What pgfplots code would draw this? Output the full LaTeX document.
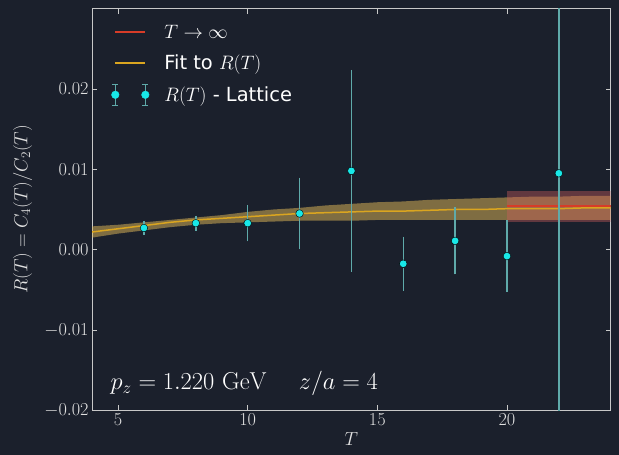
\RequirePackage{fix-cm}
\documentclass[border=0pt]{standalone}
\usepackage[no-math]{fontspec}
\setmainfont{DejaVu Sans}
\usepackage{pgfplots}
\usepackage{pgfplotstable}
\pgfplotsset{compat=1.18}
\usepgfplotslibrary{fillbetween}
\definecolor{bg}{RGB}{27,32,44}
\definecolor{axcol}{RGB}{200,200,200}
\definecolor{labcol}{RGB}{225,225,225}
\definecolor{errcol}{RGB}{95,170,170}
\definecolor{mkcol}{RGB}{24,232,232}
\definecolor{fitcol}{RGB}{218,165,32}
\definecolor{infcol}{RGB}{215,60,40}
\definecolor{infbandcol}{RGB}{205,92,92}
\pagecolor{bg}
\newcommand{\legA}{\ensuremath{T \to \infty}}
\newcommand{\legB}{Fit to \ensuremath{R(T)}}
\newcommand{\legC}{\ensuremath{R(T)} - Lattice}
\pgfplotsset{
  linelegend/.style={legend image code/.code={\path[draw=none, fill=none] (-5bp,-10bp) rectangle (47bp,10bp); \draw[##1, line width=1.6bp] (0bp,0bp) -- (30bp,0bp);}},
  latlegend/.style={legend image code/.code={%
    \path[draw=none, fill=none] (-5bp,-10bp) rectangle (47bp,10bp);
    \draw[errcol, line width=1.5bp] (0bp,-10.5bp) -- (0bp,10.5bp) (-3bp,-10.5bp) -- (3bp,-10.5bp) (-3bp,10.5bp) -- (3bp,10.5bp);
    \draw[errcol, line width=1.5bp] (30bp,-10.5bp) -- (30bp,10.5bp) (27bp,-10.5bp) -- (33bp,-10.5bp) (27bp,10.5bp) -- (33bp,10.5bp);
    \fill[mkcol] (0bp,0bp) circle (3.8bp);
    \fill[mkcol] (30bp,0bp) circle (3.8bp);}},
}
\pgfplotstableread{
T R E
6 0.0027 0.0005
8 0.0033 0.00055
10 0.0033 0.0019
12 0.0045 0.0041
14 0.0098 0.0122
16 -0.00175 0.0030
18 0.0011 0.0038
20 -0.0008 0.0041
22 0.0095 0.08
}\latticedata
\pgfplotstableread{
T lo mid hi
4 0.0015 0.0022 0.0029
5 0.0020 0.0026 0.0031
6 0.0024 0.0030 0.0034
7 0.0028 0.0034 0.0037
8 0.0031 0.0037 0.0040
9 0.0033 0.0039 0.0043
10 0.0034 0.0041 0.0047
11 0.0035 0.0043 0.0050
12 0.0036 0.0045 0.0052
13 0.0036 0.0046 0.0055
14 0.0036 0.0047 0.0057
15 0.0037 0.0048 0.0059
16 0.0037 0.0048 0.0060
17 0.0037 0.0049 0.0062
18 0.0037 0.0050 0.0063
19 0.0037 0.0050 0.0064
20 0.0037 0.0051 0.0065
21 0.0037 0.0051 0.0066
22 0.0037 0.0051 0.0066
23 0.0037 0.0052 0.0067
24 0.0037 0.0052 0.0067
}\fitdata
\pgfplotstableread{
T lo mid hi
20 0.0035 0.0054 0.0073
24 0.0035 0.0054 0.0073
}\infdata
\begin{document}
\begin{tikzpicture}
\begin{axis}[
  name=ax, at={(0,0)}, anchor=south west,
  width=518bp, height=401.5bp, scale only axis,
  xmin=4, xmax=24, ymin=-0.02, ymax=0.03,
  xtick={5,10,15,20},
  ytick={-0.02,-0.01,0,0.01,0.02},
  yticklabels={$-0.02$,$-0.01$,$0.00$,$0.01$,$0.02$},
  axis line style={draw=axcol, line width=1bp},
  tick style={draw=axcol, line width=0.8bp},
  tick align=inside, major tick length=5bp,
  tick label style={font=\fontsize{18.3}{20}\selectfont, text=labcol},
  xlabel={$T$}, ylabel={$R(T) = C_4(T)/C_2(T)$},
  label style={font=\fontsize{19}{21}\selectfont, text=labcol},
  xlabel style={at={(axis description cs:0.5,0)}, anchor=north, yshift=-19bp},
  ylabel style={at={(axis description cs:-0.109,0.5)}, anchor=south},
  legend style={at={(axis description cs:0.0347,0.9664)}, anchor=north west,
    draw=none, fill=none, text=white, font=\fontsize{19.5}{21}\selectfont,
    row sep=10.5bp, inner sep=0pt, nodes={inner sep=2bp}},
  legend cell align=left,
]
\addplot[infcol, line width=1.6bp, linelegend] table[x=T, y=mid] {\infdata};
\addlegendentry{\legA}
\addplot[name path=fu, draw=none, forget plot] table[x=T, y=hi] {\fitdata};
\addplot[name path=fl, draw=none, forget plot] table[x=T, y=lo] {\fitdata};
\addplot[fill=fitcol!75!white, fill opacity=0.5, draw=none, forget plot] fill between[of=fu and fl];
\addplot[fitcol, line width=1.5bp, linelegend] table[x=T, y=mid] {\fitdata};
\addlegendentry{\legB}
\addplot[name path=iu, draw=none, forget plot] table[x=T, y=hi] {\infdata};
\addplot[name path=il, draw=none, forget plot] table[x=T, y=lo] {\infdata};
\addplot[fill=infbandcol, fill opacity=0.4, draw=none, forget plot] fill between[of=iu and il];
\addplot[infcol, line width=1.6bp, forget plot] table[x=T, y=mid] {\infdata};
\addplot[only marks, mark=*, mark size=3.8bp, mark options={draw=none, fill=mkcol}, latlegend,
  error bars/.cd, y dir=both, y explicit,
  error bar style={errcol, line width=1.5bp},
  error mark options={errcol, line width=1.5bp, mark size=3bp}]
  table[x=T, y=R, y error=E] {\latticedata};
\addlegendentry{\legC}
\node[anchor=base west, font=\fontsize{24.5}{27}\selectfont, text=white] at (axis description cs:0.029,0.052) {$p_z = 1.220\ \mathrm{GeV} \hspace{1.3em} z/a = 4$};
\end{axis}
\pgfresetboundingbox
\useasboundingbox (-92bp,-44bp) rectangle (526.3bp,410bp);
\end{tikzpicture}
\end{document}
